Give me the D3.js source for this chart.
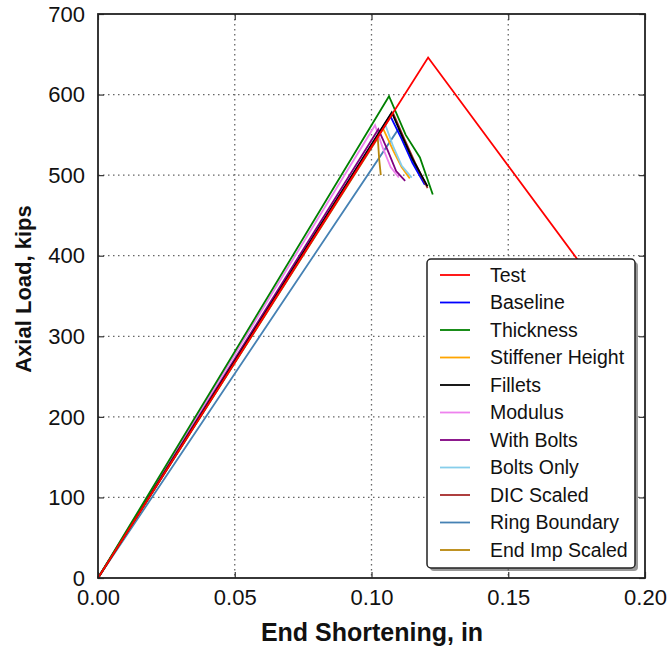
<!DOCTYPE html>
<html><head><meta charset="utf-8">
<script src="https://cdn.jsdelivr.net/npm/d3@7"></script>
<style>body{margin:0;background:#fff}svg{display:block}</style>
</head><body>
<svg id="c" width="668" height="648"></svg>
<script>
const seriesNames = ["Test","Baseline","Thickness","Stiffener Height","Fillets","Modulus","With Bolts","Bolts Only","DIC Scaled","Ring Boundary","End Imp Scaled"];
const seriesColors = ["#ff0000","#0000ff","#008000","#ffa500","#000000","#ee82ee","#800080","#87ceeb","#a52a2a","#4682b4","#b8860b"];
const xTicks = [0, 0.05, 0.10, 0.15, 0.20];
const yTicks = [0,100,200,300,400,500,600,700];

const xTest = [0, 0.1207, 0.19];            const yTest = [0, 646, 328];
const xBaseline = [0, 0.1068, 0.111, 0.115, 0.1195]; const yBaseline = [0, 574, 545, 515, 488];
const xThickness = [0, 0.1064, 0.1125, 0.1177, 0.1224]; const yThickness = [0, 598, 550, 522, 476];
const xStiff = [0, 0.1042, 0.108, 0.111, 0.1140]; const yStiff = [0, 558, 530, 510, 496];
const xFillets = [0, 0.1074, 0.111, 0.115, 0.1205]; const yFillets = [0, 578, 550, 520, 486];
const xModulus = [0, 0.1013, 0.104, 0.107, 0.1100]; const yModulus = [0, 562, 535, 510, 497];
const xWithBolts = [0, 0.1025, 0.106, 0.109, 0.1123]; const yWithBolts = [0, 557, 530, 505, 493];
const xBoltsOnly = [0, 0.105, 0.108, 0.111, 0.1147]; const yBoltsOnly = [0, 563, 535, 512, 497];
const xDIC = [0, 0.1079, 0.112, 0.116, 0.1205]; const yDIC = [0, 577, 545, 515, 484];
const xRing = [0, 0.1100, 0.113, 0.116, 0.1196]; const yRing = [0, 558, 535, 512, 490];
const xEndImp = [0, 0.1023, 0.1028, 0.1034]; const yEndImp = [0, 546, 520, 500];

const xs = [xTest,xBaseline,xThickness,xStiff,xFillets,xModulus,xWithBolts,xBoltsOnly,xDIC,xRing,xEndImp];
const ys = [yTest,yBaseline,yThickness,yStiff,yFillets,yModulus,yWithBolts,yBoltsOnly,yDIC,yRing,yEndImp];

const L=98, T=14, W=547, H=564;
const svg = d3.select("#c");
const x = d3.scaleLinear().domain([0,0.2]).range([L, L+W]);
const y = d3.scaleLinear().domain([0,700]).range([T+H, T]);
const font = "Liberation Sans, Arial, Helvetica, sans-serif";

// grid
const g = svg.append("g");
g.selectAll("line.gx").data(xTicks.slice(1,-1)).join("line")
  .attr("x1",d=>x(d)).attr("x2",d=>x(d)).attr("y1",T).attr("y2",T+H)
  .attr("stroke","#666").attr("stroke-width",1.3).attr("stroke-dasharray","1.5,3.5");
g.selectAll("line.gy").data(yTicks.slice(1,-1)).join("line")
  .attr("y1",d=>y(d)).attr("y2",d=>y(d)).attr("x1",L).attr("x2",L+W)
  .attr("stroke","#666").attr("stroke-width",1.3).attr("stroke-dasharray","1.5,3.5");

// series
const line = d3.line().x(d=>x(d[0])).y(d=>y(d[1]));
const order = [9,1,3,5,6,7,10,8,4,2,0];
order.forEach(i=>{
  const pts = xs[i].map((v,k)=>[v, ys[i][k]]);
  svg.append("path").attr("d",line(pts)).attr("fill","none")
    .attr("stroke",seriesColors[i]).attr("stroke-width",1.8).attr("stroke-linejoin","miter");
});

// axes with inward ticks
const axB = svg.append("g").attr("transform",`translate(0,${T+H})`)
  .call(d3.axisBottom(x).tickValues(xTicks).tickFormat(d3.format(".2f")).tickSizeInner(-6).tickSizeOuter(0).tickPadding(11));
const axL = svg.append("g").attr("transform",`translate(${L},0)`)
  .call(d3.axisLeft(y).tickValues(yTicks).tickFormat(d3.format("d")).tickSizeInner(-6).tickSizeOuter(0).tickPadding(13));
const axT = svg.append("g").attr("transform",`translate(0,${T})`)
  .call(d3.axisTop(x).tickValues(xTicks).tickFormat("").tickSizeInner(-6).tickSizeOuter(0));
const axR = svg.append("g").attr("transform",`translate(${L+W},0)`)
  .call(d3.axisRight(y).tickValues(yTicks).tickFormat("").tickSizeInner(-6).tickSizeOuter(0));
[axB,axL,axT,axR].forEach(a=>{
  a.select(".domain").remove();
  a.selectAll(".tick line").attr("stroke","#333").attr("stroke-width",1.2);
  a.selectAll("text").attr("font-family",font).attr("font-size",22).attr("fill","#111");
});
axL.selectAll("text").attr("dy","0.33em");
axB.selectAll("text").attr("dy","0.74em");
svg.append("rect").attr("x",L).attr("y",T).attr("width",W).attr("height",H)
  .attr("fill","none").attr("stroke","#222").attr("stroke-width",1.8);

// titles
svg.append("text").attr("x",372).attr("y",641).attr("text-anchor","middle")
  .attr("font-family",font).attr("font-size",25).attr("font-weight","bold").attr("fill","#111")
  .text("End Shortening, in");
svg.append("text").attr("transform",`translate(31,289) rotate(-90)`).attr("text-anchor","middle")
  .attr("font-family",font).attr("font-size",22).attr("font-weight","bold").attr("fill","#111")
  .text("Axial Load, kips");

// legend
const lx=427, ly=259, lw=208, lh=309;
svg.append("rect").attr("x",lx+3).attr("y",ly+3).attr("width",lw).attr("height",lh).attr("rx",4)
  .attr("fill","#555").attr("opacity",0.6);
svg.append("rect").attr("x",lx).attr("y",ly).attr("width",lw).attr("height",lh).attr("rx",4)
  .attr("fill","#fff").attr("stroke","#222").attr("stroke-width",1.5);
seriesNames.forEach((n,i)=>{
  const cy = 275 + i*27.5;
  svg.append("line").attr("x1",440).attr("x2",470).attr("y1",cy).attr("y2",cy)
    .attr("stroke",seriesColors[i]).attr("stroke-width",1.8);
  svg.append("text").attr("x",490).attr("y",cy).attr("dy","0.35em")
    .attr("font-family",font).attr("font-size",19.5).attr("fill","#111").text(n);
});
</script>
</body></html>
